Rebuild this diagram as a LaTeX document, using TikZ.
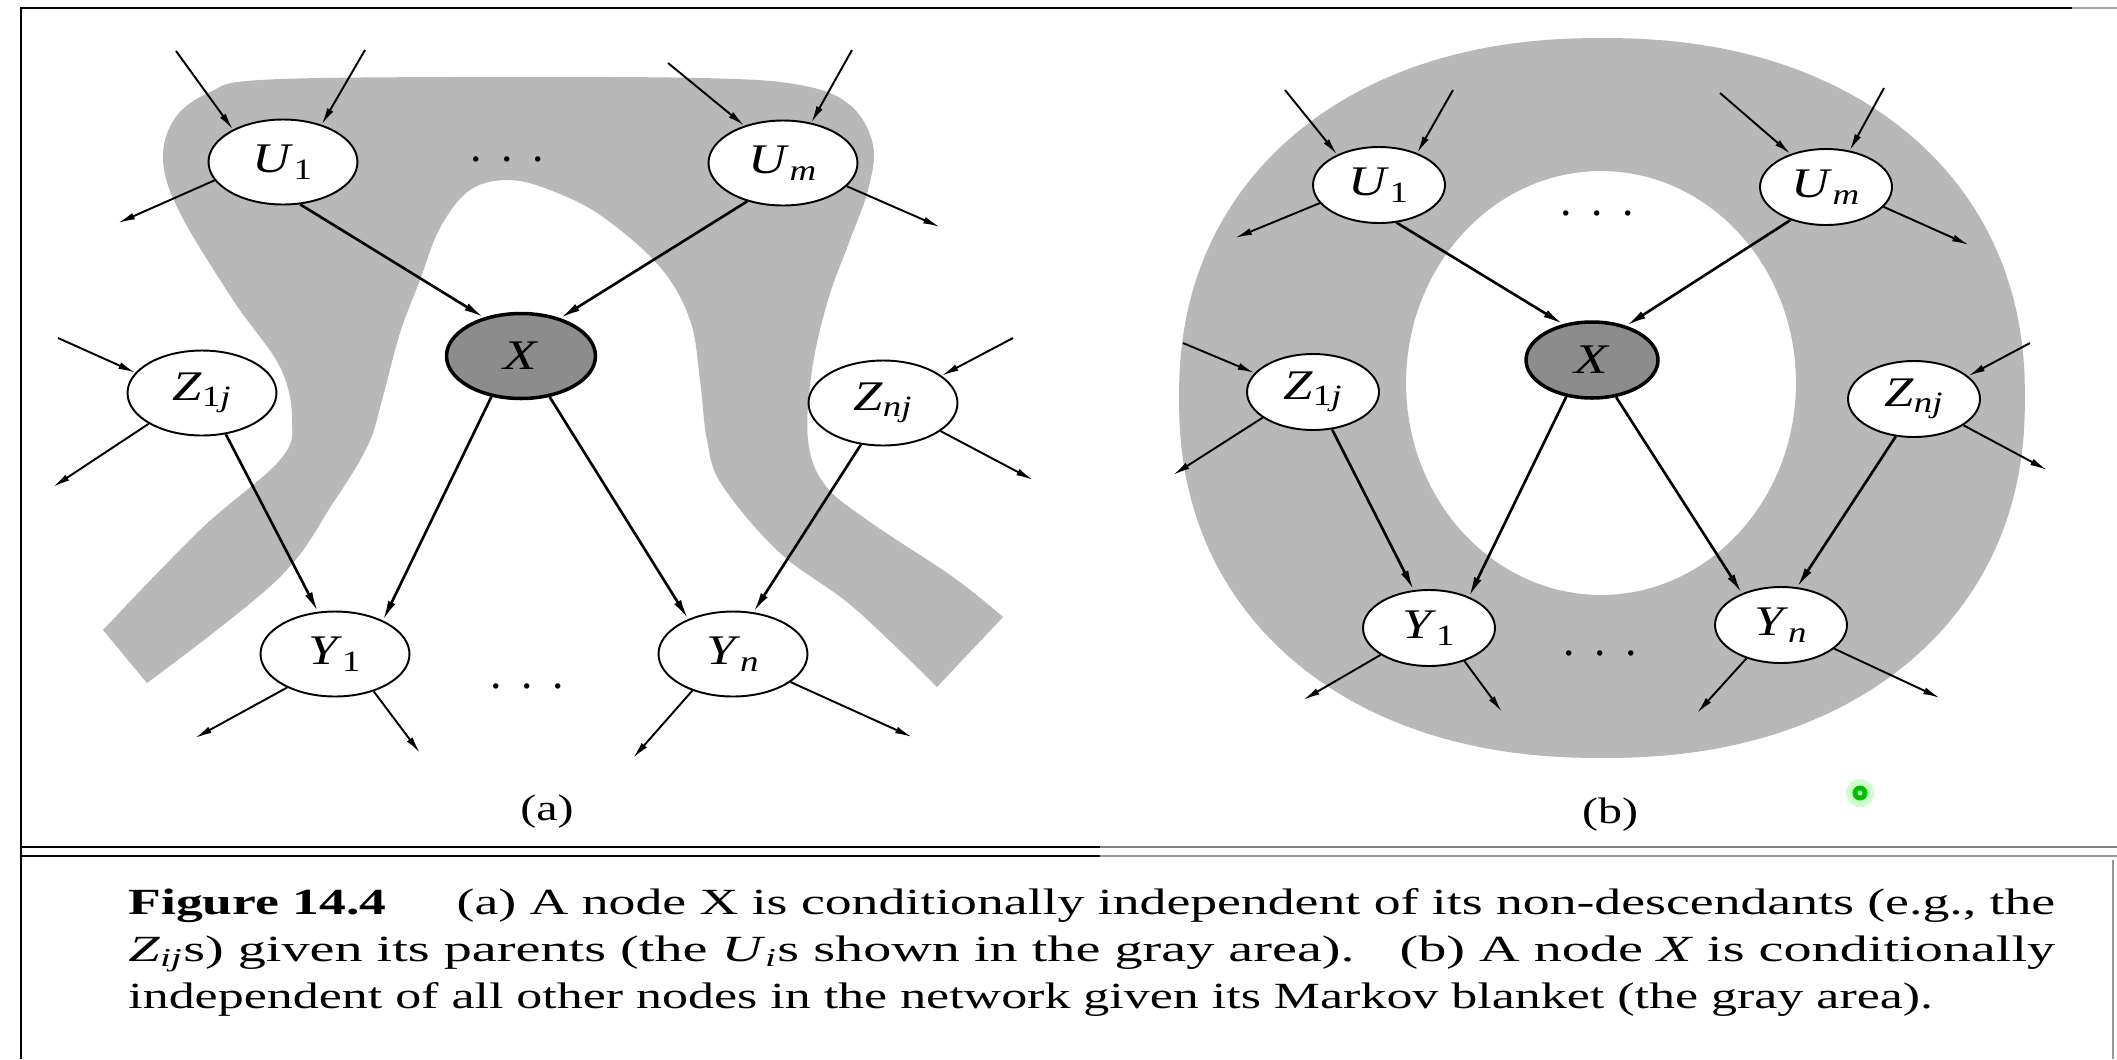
\documentclass[tikz,border=0pt]{standalone}
\usepackage{fontspec}
\setmainfont{Liberation Serif}
\usepackage{graphicx}
\usetikzlibrary{arrows.meta,shapes.geometric}

\newcommand{\lab}[2]{\scalebox{1.25}[1]{\textit{#1}\textsubscript{#2}}}
\newcommand{\wide}[1]{\scalebox{1.3}[1]{#1}}

\begin{document}
\begin{tikzpicture}[
  x=0.02cm, y=-0.02cm,
  ell/.style={ellipse, draw, line width=1.1pt, fill=white, inner sep=0pt,
              font=\fontsize{24}{28}\selectfont},
  ella/.style={ell, minimum width=2.98cm, minimum height=1.7cm},
  ellb/.style={ell, minimum width=2.64cm, minimum height=1.52cm},
  xnode/.style={fill=black!45, line width=2pt},
  arr/.style={-{Latex[length=0.4cm, width=0.16cm]}, line width=1.5pt},
  stub/.style={-{Latex[length=0.34cm, width=0.14cm]}, line width=1.1pt},
  blanket/.style={fill=black!28},
  dots/.style={font=\fontsize{26}{30}\selectfont, anchor=base, inner sep=0pt},
  sub/.style={font=\fontsize{21}{25}\selectfont, inner sep=0pt},
  capline/.style={anchor=base west, inner sep=0pt, font=\fontsize{21}{25}\selectfont},
]
\useasboundingbox (0,0) rectangle (2117,1059);
\fill[white] (0,0) rectangle (2117,1059);

% frame and rule
\draw[line width=1.6pt] (21,1059) -- (21,8) -- (2072,8);
\draw[black!35, line width=1.2pt] (2072,8) -- (2117,8);
\draw[line width=1.6pt] (21,847) -- (1100,847);
\draw[line width=1.1pt] (21,856) -- (1100,856);
\draw[black!50, line width=1.4pt] (1100,847) -- (2117,847);
\draw[black!40, line width=1pt] (1100,856) -- (2117,856);
\draw[black!40, line width=0.8pt] (2113,860) -- (2113,1059);

% gray areas
\fill[blanket] plot[smooth, tension=0.6] coordinates {(103,630) (200,530) (280,460)
    (292,420) (280,367) (233,300) (180,213) (163,160) (175,118) (210,92) (260,80)
    (450,77) (700,78) (800,85) (850,105) (873,145) (868,190) (850,240) (828,300)
    (812,370) (808,440) (825,485) (870,522) (953,577) (1003,617)}
  -- plot[smooth, tension=0.6] coordinates {(937,687) (853,607) (780,553) (722,485)
    (707,440) (700,380) (690,320) (660,267) (603,217) (555,192) (510,180) (470,190)
    (440,228) (420,280) (400,333) (382,400) (368,445) (333,503) (277,580) (147,683)}
  -- cycle;
\fill[blanket, even odd rule] plot[domain=1:361, samples=91, smooth]
    ({1602+423*cos(\x)*abs(cos(\x))^(-0.09)}, {398+360*sin(\x)*abs(sin(\x))^(-0.09)})
  -- cycle
  (1601,383) ellipse [x radius=3.9cm, y radius=4.24cm];

% (a) nodes
\node[ella] (aU1) at (283,162) {\lab{U}{1}};
\node[ella] (aUm) at (783,163) {\lab{U}{\textit{m}}};
\node[ella, xnode] (aX) at (521,356) {\wide{\textit{X}}};
\node[ella] (aZ1) at (202,393) {\lab{Z}{1\textit{j}}};
\node[ella] (aZn) at (883,403) {\lab{Z}{\textit{nj}}};
\node[ella] (aY1) at (335,654) {\lab{Y}{1}};
\node[ella] (aYn) at (733,654) {\lab{Y}{\textit{n}}};
\node[dots] (aDotsU) at (507,161) {.\hspace{0.39cm}.\hspace{0.39cm}.};
\node[dots] (aDotsY) at (527,688) {.\hspace{0.39cm}.\hspace{0.39cm}.};
\node[sub] (aCap) at (547,812) {\wide{(a)}};

% (b) nodes
\node[ellb] (bU1) at (1379,185) {\lab{U}{1}};
\node[ellb] (bUm) at (1826,187) {\lab{U}{\textit{m}}};
\node[ellb, xnode] (bX) at (1592,360) {\wide{\textit{X}}};
\node[ellb] (bZ1) at (1313,392) {\lab{Z}{1\textit{j}}};
\node[ellb] (bZn) at (1914,399) {\lab{Z}{\textit{nj}}};
\node[ellb] (bY1) at (1429,628) {\lab{Y}{1}};
\node[ellb] (bYn) at (1781,625) {\lab{Y}{\textit{n}}};
\node[dots] (bDotsU) at (1597,215) {.\hspace{0.39cm}.\hspace{0.39cm}.};
\node[dots] (bDotsY) at (1600,655) {.\hspace{0.39cm}.\hspace{0.39cm}.};
\node[sub] (bCap) at (1610,815) {\wide{(b)}};

% main arrows
\draw[arr] (aU1.292) -- (aX.134);
\draw[arr] (aUm.227) -- (aX.44);
\draw[arr] (aX.234) -- (aY1.35);
\draw[arr] (aX.305) -- (aYn.142);
\draw[arr] (aZ1.300) -- (aY1.112);
\draw[arr] (aZn.242) -- (aYn.64);
\draw[arr] (bU1.295) -- (bX.129);
\draw[arr] (bUm.223) -- (bX.45);
\draw[arr] (bX.235) -- (bY1.38);
\draw[arr] (bX.303) -- (bYn.141);
\draw[arr] (bZ1.297) -- (bY1.112);
\draw[arr] (bZn.244) -- (bYn.67);

% loose ends of the stubs
\foreach \nm/\px/\py in {aU1i1/176/51, aU1i2/365/50, aU1o/118/223, aUmi1/668/63,
    aUmi2/852/50, aUmo/940/227, aZ1i/58/338, aZ1o/53/487, aZni/1013/338,
    aZno/1033/480, aY1o1/195/738, aY1o2/420/753, aYno1/633/758, aYno2/912/737,
    bU1i1/1285/90, bU1i2/1453/90, bU1o/1235/238, bUmi1/1720/93, bUmi2/1884/88,
    bUmo/1969/245, bZ1i/1183/343, bZ1o/1173/475, bZni/2030/343, bZno/2047/470,
    bY1o1/1303/700, bY1o2/1502/712, bYno1/1697/713, bYno2/1940/698}
  \coordinate (\nm) at (\px,\py);

% stubs
\foreach \s/\t in {aU1i1/aU1.147, aU1i2/aU1.44, aUmi1/aUm.136, aUmi2/aUm.55,
    aZ1i/aZ1.163, aZni/aZn.25, aU1.195/aU1o, aUm.340/aUmo, aZ1.210/aZ1o,
    aZn.334/aZno, aY1.215/aY1o1, aY1.316/aY1o2, aYn.222/aYno1, aYn.334/aYno2,
    bU1i1/bU1.144, bU1i2/bU1.40, bUmi1/bUm.137, bUmi2/bUm.57, bZ1i/bZ1.162,
    bZni/bZn.23, bU1.197/bU1o, bUm.341/bUmo, bZ1.207/bZ1o, bZn.332/bZno,
    bY1.209/bY1o1, bY1.317/bY1o2, bYn.224/bYno1, bYn.336/bYno2}
  \draw[stub] (\s) -- (\t);

% green dot
\fill[green!20] (1860,793) circle[radius=0.28cm];
\fill[green!75!black] (1860,793) circle[radius=0.15cm];
\fill[green!35] (1860,793) circle[radius=0.05cm];

% caption
\node[capline] (cap1) at (128,914) {\resizebox{38.54cm}{\height}{\textbf{Figure 14.4}\hspace{1.3em}(a) A node X is conditionally independent of its non-descendants (e.g., the}};
\node[capline] (cap2) at (128,961) {\resizebox{38.54cm}{\height}{\textit{Z}\textsubscript{\textit{ij}}s) given its parents (the \textit{U}\textsubscript{\textit{i}}s shown in the gray area).\hspace{0.8em}(b) A node \textit{X} is conditionally}};
\node[capline] (cap3) at (128,1008) {\resizebox{36.1cm}{\height}{independent of all other nodes in the network given its Markov blanket (the gray area).}};
\end{tikzpicture}
\end{document}
